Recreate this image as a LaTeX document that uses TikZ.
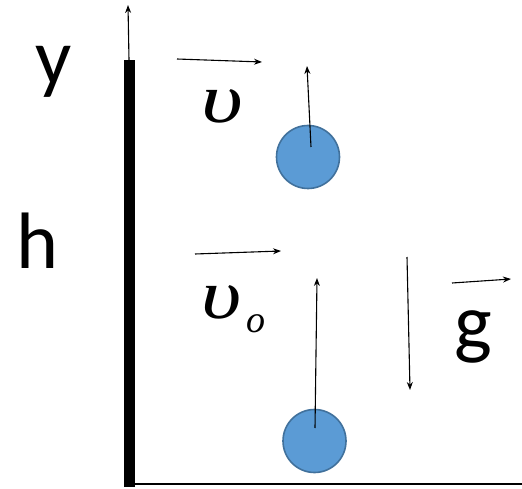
\documentclass[tikz,border=0pt]{standalone}
\usepackage{fontspec}
\usepackage{graphicx}
\newfontfamily\calfont{Carlito}
\newfontfamily\grkfont{Liberation Serif}
\usetikzlibrary{arrows.meta}
\definecolor{ballfill}{HTML}{5B9BD5}
\definecolor{balledge}{HTML}{41719C}
\tikzset{
  vec/.style={line width=1.1pt,-{Stealth[length=8pt,width=6pt]}},
  ball/.style={circle,fill=ballfill,draw=balledge,line width=1.6pt,minimum size=63pt,inner sep=0pt},
  bigsans/.style={font=\calfont\fontsize{80}{80}\selectfont,inner sep=0pt},
  greek/.style={font=\grkfont\itshape\fontsize{70}{74}\selectfont,inner sep=0pt}
}
\begin{document}
\begin{tikzpicture}[x=1pt,y=-1pt]
\useasboundingbox (0,0) rectangle (522,489);
% wall and floor
\fill (124,60) rectangle (135,487);
\coordinate (walltop) at (129,60);
\coordinate (ytip) at (128,5);
\draw[vec] (walltop) -- (ytip);
\coordinate (floorL) at (135,484);
\coordinate (floorR) at (522,484);
\draw[line width=1.6pt] (floorL) -- (floorR);
% labels
\node[bigsans] (ylab) at (54,72) {y};
\node[bigsans] (hlab) at (38,241) {h};
\node[bigsans] (glab) at (473,337) {g};
% balls
\node[ball] (b1) at (308,157) {};
\node[ball] (b2) at (314.5,441) {};
\coordinate (b1s) at (311,147);
\coordinate (b1t) at (307,66);
\draw[vec] (b1s) -- (b1t);
\coordinate (b2s) at (315,428);
\coordinate (b2t) at (317,278);
\draw[vec] (b2s) -- (b2t);
% velocity labels
\node[greek] (v) at (222,106) {\scalebox{1.3}[1]{υ}};
\coordinate (va) at (177,59);
\coordinate (vb) at (262,62);
\draw[vec] (va) -- (vb);
\node[greek,anchor=base west] (v0) at (201,318) {\scalebox{1.25}[1]{υ}\hspace{5pt}\raisebox{-0.2em}{\fontsize{38}{38}\selectfont o}};
\coordinate (v0a) at (195,254);
\coordinate (v0b) at (281,251);
\draw[vec] (v0a) -- (v0b);
% gravity
\coordinate (ga) at (407,257);
\coordinate (gb) at (410,390);
\draw[vec] (ga) -- (gb);
\coordinate (gva) at (452,283);
\coordinate (gvb) at (511,279);
\draw[vec] (gva) -- (gvb);
\end{tikzpicture}
\end{document}
